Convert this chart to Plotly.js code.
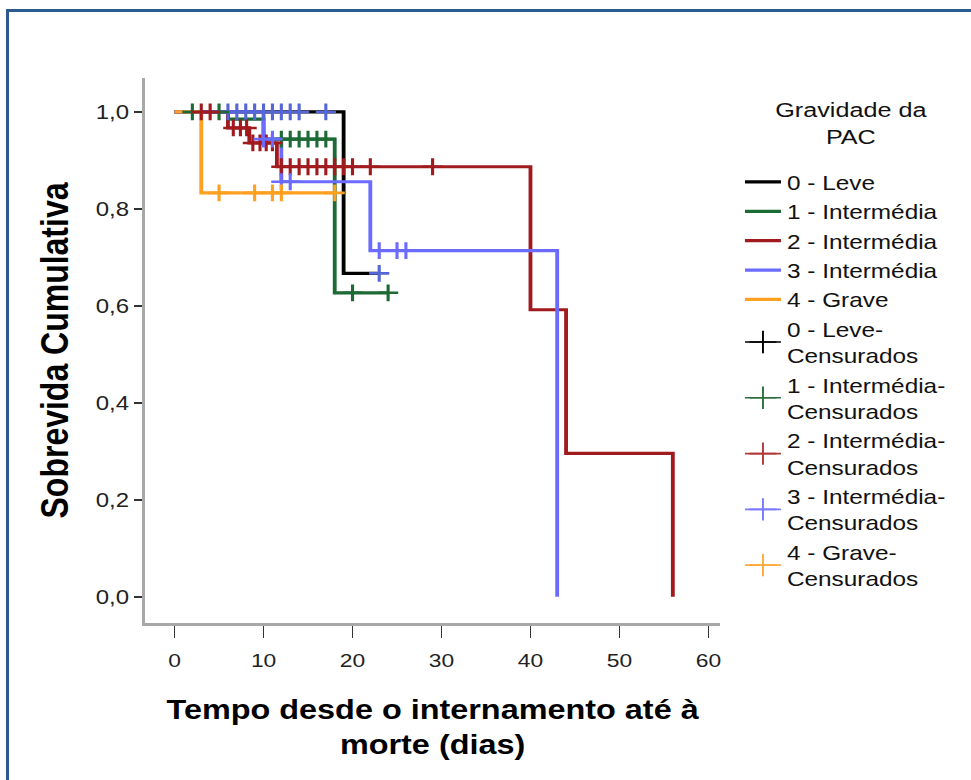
<!DOCTYPE html>
<html><head><meta charset="utf-8">
<script src="https://cdn.plot.ly/plotly-3.0.1.min.js"></script>
<style>
html,body{margin:0;padding:0;background:#fff;overflow:hidden;}
#wrap{position:absolute;left:0;top:0;width:971px;height:780px;overflow:hidden;}
#plot{width:809px;height:780px;transform:scaleX(1.2);transform-origin:0 0;}
#frame{position:absolute;left:6px;top:9px;width:990px;height:800px;border-top:3px solid #2c5a8e;border-left:3px solid #2c5a8e;pointer-events:none;}
</style></head><body>
<div id="wrap"><div id="plot"></div></div>
<div id="frame"></div>
<script>
// ---- data ----
const legendTitle = 'Gravidade da<br>PAC';
const groupNames = ['0 - Leve', '1 - Intermédia', '2 - Intermédia', '3 - Intermédia', '4 - Grave'];
const censorNames = ['0 - Leve-<br>Censurados', '1 - Intermédia-<br>Censurados', '2 - Intermédia-<br>Censurados', '3 - Intermédia-<br>Censurados', '4 - Grave-<br>Censurados'];

const leveTime = [0, 19, 23];
const leveSurv = [1.0, 0.667, 0.667];
const leveCensor = [6, 7, 8, 9, 10, 11, 12, 13, 14, 17, 23];

const inter1Time = [0, 6, 10, 18, 24];
const inter1Surv = [1.0, 0.985, 0.944, 0.627, 0.627];
const inter1Censor = [2, 5, 12, 13, 14, 15, 16, 17, 20, 24];

const inter2Time = [0, 6, 8.4, 11.5, 40, 44, 56];
const inter2Surv = [1.0, 0.967, 0.936, 0.887, 0.592, 0.296, 0.0];
const inter2Censor = [3, 4, 6.6, 7.4, 8.1, 8.8, 9.6, 10.3, 11, 12, 13, 14, 15, 16, 17, 18, 19, 20, 22, 29];

const inter3Time = [0, 10, 12, 22, 43];
const inter3Surv = [1.0, 0.944, 0.856, 0.714, 0.0];
const inter3Censor = [10, 11, 12, 13, 23, 25, 26];

const graveTime = [0, 3, 18];
const graveSurv = [1.0, 0.833, 0.833];
const graveCensor = [5, 9, 11, 12, 18];

const xTicks = [0, 10, 20, 30, 40, 50, 60];
const yTicks = [0.0, 0.2, 0.4, 0.6, 0.8, 1.0];

// ---- styles ----
const lineColors = ['#000000', '#1d6b34', '#a01a1e', '#6b6bff', '#ffa020'];
const censorPlotColors = ['#5566d6', '#1d6b34', '#a01a1e', '#6b6bff', '#ffa020'];
const censorLegendColors = ['#000000', '#2e7040', '#b03a3a', '#7a7aff', '#ffaa3a'];

const times = [leveTime, inter1Time, inter2Time, inter3Time, graveTime];
const survs = [leveSurv, inter1Surv, inter2Surv, inter3Surv, graveSurv];
const censors = [leveCensor, inter1Censor, inter2Censor, inter3Censor, graveCensor];

function survAt(t, s, x) {
  let v = s[0];
  for (let i = 0; i < t.length; i++) { if (t[i] <= x) v = s[i]; }
  return v;
}

const data = [];
for (let g = 0; g < 5; g++) {
  data.push({
    type: 'scatter', mode: 'lines', name: groupNames[g],
    x: times[g], y: survs[g],
    line: {shape: 'hv', color: lineColors[g], width: 3.2},
    legendrank: g + 1
  });
}
for (let g = 0; g < 5; g++) {
  data.push({
    type: 'scatter', mode: 'markers', name: censorNames[g], showlegend: false,
    x: censors[g], y: censors[g].map(c => survAt(times[g], survs[g], c)),
    marker: {symbol: 'cross-thin', size: 12, line: {width: 2.6, color: censorPlotColors[g]}, color: censorPlotColors[g]}
  });
}
for (let g = 0; g < 5; g++) {
  data.push({
    type: 'scatter', mode: 'lines+markers', name: censorNames[g],
    x: [null], y: [null],
    line: {color: censorLegendColors[g], width: 1.6},
    marker: {symbol: 'cross-thin', size: 16, line: {width: 1.6, color: censorLegendColors[g]}, color: censorLegendColors[g]},
    legendrank: g + 6
  });
}

const layout = {
  width: 809, height: 780,
  margin: {l: 121, r: 209, t: 78, b: 157},
  paper_bgcolor: '#ffffff', plot_bgcolor: '#ffffff',
  separators: ',.',
  font: {family: 'Liberation Sans, Arial, sans-serif', color: '#000000'},
  showlegend: true,
  xaxis: {
    range: [-3.3, 61.3], tickvals: xTicks, ticks: 'outside', ticklen: 12, tickwidth: 1.5, tickcolor: '#333333',
    ticklabelstandoff: 6,
    showline: true, linecolor: '#a8a8a8', linewidth: 3, showgrid: false, zeroline: false,
    tickfont: {size: 19, color: '#222222'},
    title: {text: 'Tempo desde o internamento até à<br>morte (dias)', font: {size: 27, weight: 'bold'}, standoff: 31}
  },
  yaxis: {
    range: [-0.054, 1.07], tickvals: yTicks, tickformat: '.1f', ticks: 'outside', ticklen: 7, tickwidth: 1.5, tickcolor: '#333333',
    showline: true, linecolor: '#a8a8a8', linewidth: 2.5, showgrid: false, zeroline: false,
    tickfont: {size: 20, color: '#222222'},
    title: {text: 'Sobrevida Cumulativa', font: {size: 32, weight: 'bold'}, standoff: 13}
  },
  legend: {
    x: 1.033, xanchor: 'left', y: 0.8455, yanchor: 'top',
    font: {size: 20.3, color: '#111111'}, tracegroupgap: 0, valign: 'middle',
    bgcolor: 'rgba(0,0,0,0)'
  },
  annotations: [{
    text: legendTitle, xref: 'paper', yref: 'paper', x: 1.2266, y: 0.918,
    xanchor: 'center', yanchor: 'middle', align: 'center', showarrow: false,
    font: {size: 21, color: '#111111'}
  }]
};

Plotly.newPlot('plot', data, layout, {displayModeBar: false, staticPlot: true});
</script></body></html>
